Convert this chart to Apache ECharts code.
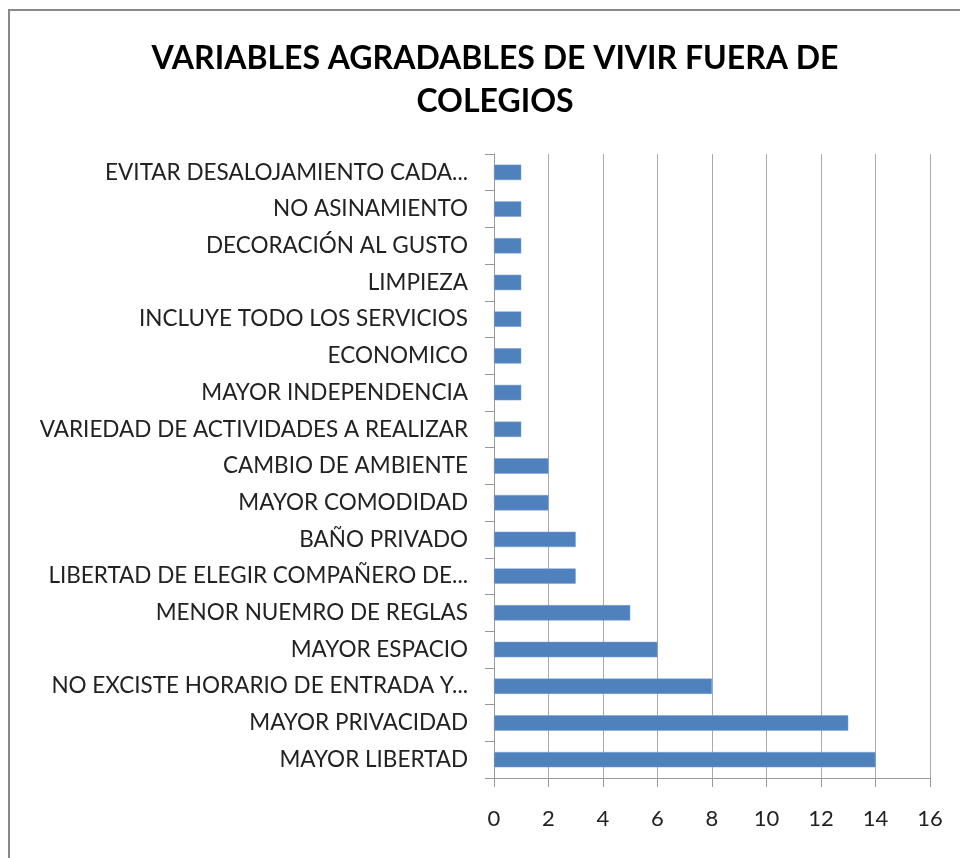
<!DOCTYPE html>
<html><head><meta charset="utf-8">
<script src="https://cdn.jsdelivr.net/npm/echarts@6/dist/echarts.min.js"></script>
<style>html,body{margin:0;padding:0;background:#fff}#c{width:960px;height:858px}</style>
</head><body><div id="c"></div>
<script>
const categories = [
  "MAYOR LIBERTAD",
  "MAYOR PRIVACIDAD",
  "NO EXCISTE HORARIO DE ENTRADA Y...",
  "MAYOR ESPACIO",
  "MENOR NUEMRO DE REGLAS",
  "LIBERTAD DE ELEGIR COMPAÑERO DE...",
  "BAÑO PRIVADO",
  "MAYOR COMODIDAD",
  "CAMBIO DE AMBIENTE",
  "VARIEDAD DE ACTIVIDADES A REALIZAR",
  "MAYOR INDEPENDENCIA",
  "ECONOMICO",
  "INCLUYE TODO LOS SERVICIOS",
  "LIMPIEZA",
  "DECORACIÓN AL GUSTO",
  "NO ASINAMIENTO",
  "EVITAR DESALOJAMIENTO CADA..."
];
const values = [14, 13, 8, 6, 5, 3, 3, 2, 2, 1, 1, 1, 1, 1, 1, 1, 1];
const titleText = "VARIABLES AGRADABLES DE VIVIR FUERA DE\nCOLEGIOS";

const chart = echarts.init(document.getElementById('c'));
chart.setOption({
  animation: false,
  title: {
    text: titleText,
    left: 490, top: 32, textAlign: 'center',
    textStyle: { fontFamily: 'Lato', fontWeight: 'bold', fontSize: 32, lineHeight: 43, color: '#000' }
  },
  graphic: [{
    type: 'rect', shape: { x: 9, y: 10, width: 1200, height: 1200 },
    style: { fill: 'none', stroke: '#888', lineWidth: 2 }, silent: true
  }],
  grid: { left: 494, right: 30, top: 154, bottom: 80, containLabel: false },
  xAxis: {
    type: 'value', min: 0, max: 16, interval: 2,
    axisLine: { show: true, lineStyle: { color: '#999', width: 1 } },
    axisTick: { show: true, length: 9, lineStyle: { color: '#999' } },
    axisLabel: { margin: 30, fontFamily: 'Lato', fontSize: 22, color: '#222' },
    splitLine: { show: true, lineStyle: { color: '#aaa', width: 1 } }
  },
  yAxis: {
    type: 'category', data: categories,
    axisLine: { show: true, lineStyle: { color: '#999' } },
    axisTick: { show: true, length: 9, lineStyle: { color: '#999' } },
    axisLabel: { margin: 26, fontFamily: 'Lato', fontSize: 22.5, color: '#222' },
    splitLine: { show: false }
  },
  series: [{
    type: 'bar', data: values, barCategoryGap: '58%',
    itemStyle: { color: '#4f81bd', borderColor: '#7fa3d0', borderWidth: 0.5 }
  }]
});
</script></body></html>
